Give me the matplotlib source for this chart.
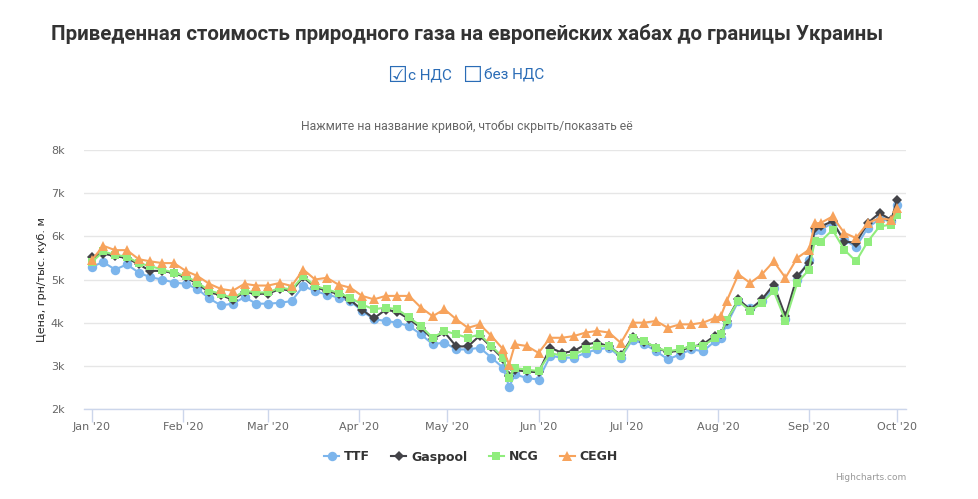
import matplotlib
matplotlib.use("Agg")
import matplotlib.pyplot as plt
import numpy as np
import pandas as pd

# ---------------- data ----------------
day_offsets = [0, 4, 8, 12, 16, 20, 24, 28, 32, 36, 40, 44, 48, 52, 56, 60,
               64, 68, 72, 76, 80, 84, 88, 92, 96, 100, 104, 108, 112, 116, 120,
               124, 128, 132, 136, 140, 142, 144, 148, 152, 156, 160, 164, 168,
               172, 176, 180, 184, 188, 192, 196, 200, 204, 208, 212, 214, 216,
               220, 224, 228, 232, 236, 240, 244, 246, 248, 252, 256, 260, 264,
               268, 272, 274]

ttf = [5300, 5400, 5230, 5350, 5160, 5050, 5000, 4930, 4900, 4780, 4560, 4400,
       4440, 4590, 4440, 4440, 4460, 4500, 4850, 4730, 4650, 4580, 4500, 4270,
       4080, 4040, 4000, 3920, 3730, 3500, 3540, 3380, 3380, 3420, 3190, 2950,
       2510, 2800, 2720, 2680, 3230, 3190, 3190, 3300, 3380, 3420, 3190, 3610,
       3500, 3340, 3150, 3260, 3380, 3340, 3570, 3650, 3960, 4500, 4340, 4500,
       4800, 4080, 5000, 5460, 6150, 6150, 6310, 5920, 5750, 6200, 6400, 6350,
       6730]

gaspool = [5520, 5600, 5540, 5500, 5350, 5200, 5200, 5150, 5050, 4900, 4700,
           4640, 4530, 4710, 4670, 4670, 4780, 4740, 5050, 4820, 4740, 4660,
           4520, 4300, 4100, 4300, 4250, 4080, 3880, 3620, 3780, 3450, 3450,
           3700, 3430, 3160, 2760, 2900, 2870, 2850, 3420, 3300, 3340, 3500,
           3535, 3450, 3250, 3670, 3560, 3420, 3320, 3350, 3440, 3500, 3700,
           3730, 4050, 4540, 4300, 4540, 4880, 4150, 5080, 5380, 6200, 6230,
           6350, 5880, 5850, 6310, 6540, 6380, 6850]

ncg = [5400, 5650, 5570, 5530, 5380, 5310, 5230, 5160, 5080, 4930, 4740, 4670,
       4560, 4740, 4700, 4700, 4810, 4770, 5080, 4850, 4770, 4690, 4580, 4420,
       4310, 4350, 4310, 4120, 3920, 3650, 3810, 3730, 3650, 3730, 3460, 3190,
       2720, 2950, 2910, 2880, 3300, 3230, 3260, 3380, 3460, 3460, 3220, 3650,
       3570, 3420, 3340, 3380, 3460, 3460, 3650, 3730, 4070, 4500, 4270, 4460,
       4730, 4050, 4920, 5230, 5900, 5880, 6150, 5690, 5420, 5880, 6230, 6270,
       6500]

cegh = [5450, 5780, 5680, 5680, 5470, 5420, 5380, 5380, 5200, 5080, 4900, 4780,
        4740, 4900, 4860, 4860, 4920, 4850, 5230, 5000, 5040, 4880, 4810, 4620,
        4540, 4620, 4620, 4620, 4350, 4150, 4310, 4080, 3880, 3960, 3690, 3380,
        3030, 3500, 3460, 3300, 3650, 3650, 3690, 3770, 3810, 3770, 3530, 4000,
        4000, 4040, 3880, 3960, 3960, 4000, 4110, 4150, 4500, 5120, 4920, 5120,
        5420, 5040, 5500, 5690, 6300, 6310, 6460, 6080, 5960, 6310, 6420, 6380,
        6650]

series_names = ["TTF", "Gaspool", "NCG", "CEGH"]
month_ticks = ["2020-01-01", "2020-02-01", "2020-03-01", "2020-04-01",
               "2020-05-01", "2020-06-01", "2020-07-01", "2020-08-01",
               "2020-09-01", "2020-10-01"]
month_labels = ["Jan '20", "Feb '20", "Mar '20", "Apr '20", "May '20",
                "Jun '20", "Jul '20", "Aug '20", "Sep '20", "Oct '20"]
y_ticks = [2000, 3000, 4000, 5000, 6000, 7000, 8000]
y_labels = ["2k", "3k", "4k", "5k", "6k", "7k", "8k"]

# ---------------- figure ----------------
W, H = 979, 499
fig = plt.figure(figsize=(W / 100, H / 100), dpi=100)
fig.patch.set_facecolor("white")

def fx(px):
    return px / W

def fy(py):
    return 1 - py / H

L, R, T, B = 84, 906, 150, 409
ax = fig.add_axes([fx(L), fy(B), fx(R) - fx(L), fy(T) - fy(B)])

dates = pd.Timestamp("2020-01-01") + pd.to_timedelta(day_offsets, unit="D")

colors = ["#7cb5ec", "#434348", "#90ed7d", "#f7a35c"]
markers = ["o", "D", "s", "^"]
msizes = [6.8, 5.0, 6.4, 7.0]
data = [ttf, gaspool, ncg, cegh]

handles = []
for name, vals, c, m, ms in zip(series_names, data, colors, markers, msizes):
    h, = ax.plot(dates, vals, color=c, lw=1.5, marker=m, markersize=ms,
                 markeredgewidth=0, label=name, zorder=3)
    handles.append(h)

ax.set_ylim(2000, 8000)
ax.set_xlim(pd.Timestamp("2020-01-01") - pd.Timedelta(days=2.6),
            pd.Timestamp("2020-01-01") + pd.Timedelta(days=277.0))

ax.set_yticks(y_ticks)
ax.set_yticklabels(y_labels)
ax.set_xticks(pd.to_datetime(month_ticks))
ax.set_xticklabels(month_labels)

for s in ["top", "right", "left"]:
    ax.spines[s].set_visible(False)
ax.spines["bottom"].set_color("#ccd6eb")
ax.spines["bottom"].set_linewidth(1)

ax.grid(axis="y", color="#e6e6e6", lw=1)
ax.set_axisbelow(True)
ax.tick_params(axis="y", length=0, pad=14, labelsize=8, labelcolor="#666666")
ax.tick_params(axis="x", length=9, width=1, color="#ccd6eb", pad=0.0,
               labelsize=8, labelcolor="#666666")

ax.set_ylabel("Цена, грн/тыс. куб. м", fontsize=8, color="#222222")
ax.yaxis.set_label_coords(-0.045, 0.5)

# ---------------- texts ----------------
fig.text(fx(467), fy(34), "Приведенная стоимость природного газа на европейских хабах до границы Украины",
         ha="center", va="center", fontsize=14.8, fontweight="bold", color="#333333",
         family=["Roboto", "DejaVu Sans"])

blue = "#2a6cb6"
fig.text(fx(397), fy(76), "☑", ha="center", va="center", fontsize=16, color=blue,
         family="DejaVu Sans")
fig.text(fx(408), fy(76), "с НДС", ha="left", va="center", fontsize=11, color=blue,
         family=["Roboto", "DejaVu Sans"])
fig.text(fx(472), fy(76), "☐", ha="center", va="center", fontsize=16, color=blue,
         family="DejaVu Sans")
fig.text(fx(484), fy(76), "без НДС", ha="left", va="center", fontsize=11, color=blue,
         family=["Roboto", "DejaVu Sans"])

fig.text(fx(467), fy(127), "Нажмите на название кривой, чтобы скрыть/показать её",
         ha="center", va="center", fontsize=8.8, color="#666666",
         family=["Roboto", "DejaVu Sans"])

fig.text(fx(906), fy(478), "Highcharts.com", ha="right", va="center", fontsize=6.5,
         color="#999999")

leg = fig.legend(handles=handles, labels=series_names, loc="center",
                 bbox_to_anchor=(fx(471), fy(457)), ncol=4, frameon=False,
                 handlelength=1.2, columnspacing=1.7, handletextpad=0.4,
                 prop={"weight": "bold", "size": 9})
for t in leg.get_texts():
    t.set_color("#333333")

fig.savefig("out.png", dpi=100, facecolor="white")
